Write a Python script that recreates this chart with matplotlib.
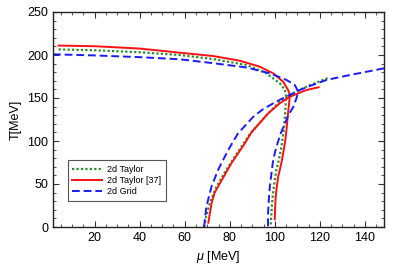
import matplotlib
matplotlib.use("Agg")
import matplotlib.pyplot as plt
from matplotlib.ticker import MultipleLocator

plt.rcParams['font.family'] = ['Liberation Sans', 'DejaVu Sans']
plt.rcParams['mathtext.fontset'] = 'custom'
plt.rcParams['mathtext.it'] = 'Liberation Sans:italic'

# 2d Taylor (green, dotted)
taylor_up_mu = [4, 20, 40, 57.8, 72.6, 87.4, 96.3, 102.2, 104.4, 104.9, 104.8, 104.4, 104.0, 103.4, 102.7, 101.8, 100.7, 99.9, 99.2, 98.7, 98.4, 98.2]
taylor_up_T  = [206.5, 205.5, 203.2, 200, 195.3, 188.4, 178.7, 167, 160, 153.5, 140, 125, 112.8, 101, 90, 78, 66.3, 53, 39, 25, 12, 2]
taylor_lo_mu = [68.6, 69.5, 71.1, 74.1, 79.3, 85.2, 88.9, 93.3, 96.3, 102.2, 106.7, 111, 115.6, 120, 124.4]
taylor_lo_T  = [0, 12, 27.5, 47, 70, 93.4, 108, 121, 130, 145.7, 153.5, 159.5, 165, 169.5, 174]

# 2d Taylor [37] (red, solid)
ref_up_mu = [4, 20, 40, 57.8, 72.6, 84.4, 93.3, 99.3, 103.7, 105.9, 106.7, 106.2, 105.6, 105.2, 104.7, 104.0, 103.2, 102.2, 101.5, 100.8, 100.4, 100.1, 100]
ref_up_T  = [211, 210.2, 207.5, 202.7, 198.8, 193.4, 186.4, 178.7, 169, 159.3, 153.5, 140, 125, 112.8, 101, 90, 78, 66, 58.5, 45, 35, 20, 9]
ref_lo_mu = [70.5, 71.9, 73.3, 75.6, 80.7, 86.7, 89.6, 94, 97, 102.2, 106.7, 110.5, 114, 119.5]
ref_lo_T  = [5, 27.5, 40, 50.7, 74, 97.3, 110, 123, 132, 143.8, 151.5, 155.5, 159.3, 162.5]

# 2d Grid (blue, dashed)
grid_up_mu = [1.5, 20, 40, 57.8, 72.6, 87.4, 97.8, 105.2, 108.9, 110.4, 109.6, 108.3, 106, 104.4, 102.5, 101.3, 100.2, 99.3, 98.5, 97.8, 97.3, 97, 97]
grid_up_T  = [200.8, 199.5, 197.5, 195, 190.5, 185.5, 178.7, 171, 165, 157.4, 149.6, 140, 130, 120, 108, 98, 88, 78, 62, 47, 30, 15, 0]
grid_lo_mu = [68.6, 69.6, 71.9, 74.8, 79.3, 83.7, 88.1, 90.4, 94.5, 99.3, 103, 106.7, 111.1, 115.6, 123, 133.3, 148.5]
grid_lo_T  = [0, 23.6, 47, 66.3, 89.5, 109, 121.5, 128, 136.5, 143.8, 149, 153.5, 159.3, 164, 171, 176.7, 184.5]

labels = ['2d Taylor', '2d Taylor [37]', '2d Grid']
xticks = [20, 40, 60, 80, 100, 120, 140]
yticks = [0, 50, 100, 150, 200, 250]

green = '#2e8b2e'
red = '#ff1010'
blue = '#1a1aff'

fig = plt.figure(figsize=(3.99, 2.78), dpi=100)
ax = fig.add_axes([53/399, 1-227/278, 331/399, 215/278])

lg, = ax.plot(taylor_up_mu, taylor_up_T, color=green, ls=(0, (1, 1)), lw=1.6, label=labels[0])
ax.plot(taylor_lo_mu, taylor_lo_T, color=green, ls=(0, (1, 1)), lw=1.6)
lr, = ax.plot(ref_up_mu, ref_up_T, color=red, ls='-', lw=1.4, label=labels[1])
ax.plot(ref_lo_mu, ref_lo_T, color=red, ls='-', lw=1.4)
lb, = ax.plot(grid_up_mu, grid_up_T, color=blue, ls=(0, (4, 2)), lw=1.4, label=labels[2])
ax.plot(grid_lo_mu, grid_lo_T, color=blue, ls=(0, (4, 2)), lw=1.4)

ax.set_xlim(1.5, 148.5)
ax.set_ylim(0, 250)
ax.set_xticks(xticks)
ax.set_yticks(yticks)
ax.xaxis.set_minor_locator(MultipleLocator(5))
ax.yaxis.set_minor_locator(MultipleLocator(10))
ax.tick_params(which='both', direction='in', top=True, right=True, labelsize=9, color='#333333')
ax.tick_params(which='major', length=4, width=0.8)
ax.tick_params(which='minor', length=2, width=0.6)
for s in ax.spines.values():
    s.set_color('#222222')
    s.set_linewidth(1.0)

ax.set_xlabel(r'$\mu$ [MeV]', fontsize=9, labelpad=4)
ax.set_ylabel('T[MeV]', fontsize=9, labelpad=4)

leg = ax.legend(handles=[lg, lr, lb], loc='lower left', bbox_to_anchor=(0.044, 0.121),
                borderaxespad=0, fontsize=6.5, fancybox=False, edgecolor='#555555',
                framealpha=1, handlelength=3.3, handletextpad=0.6, labelspacing=0.25,
                borderpad=0.5)
leg.get_frame().set_linewidth(0.8)

fig.savefig('out.png', dpi=100)
